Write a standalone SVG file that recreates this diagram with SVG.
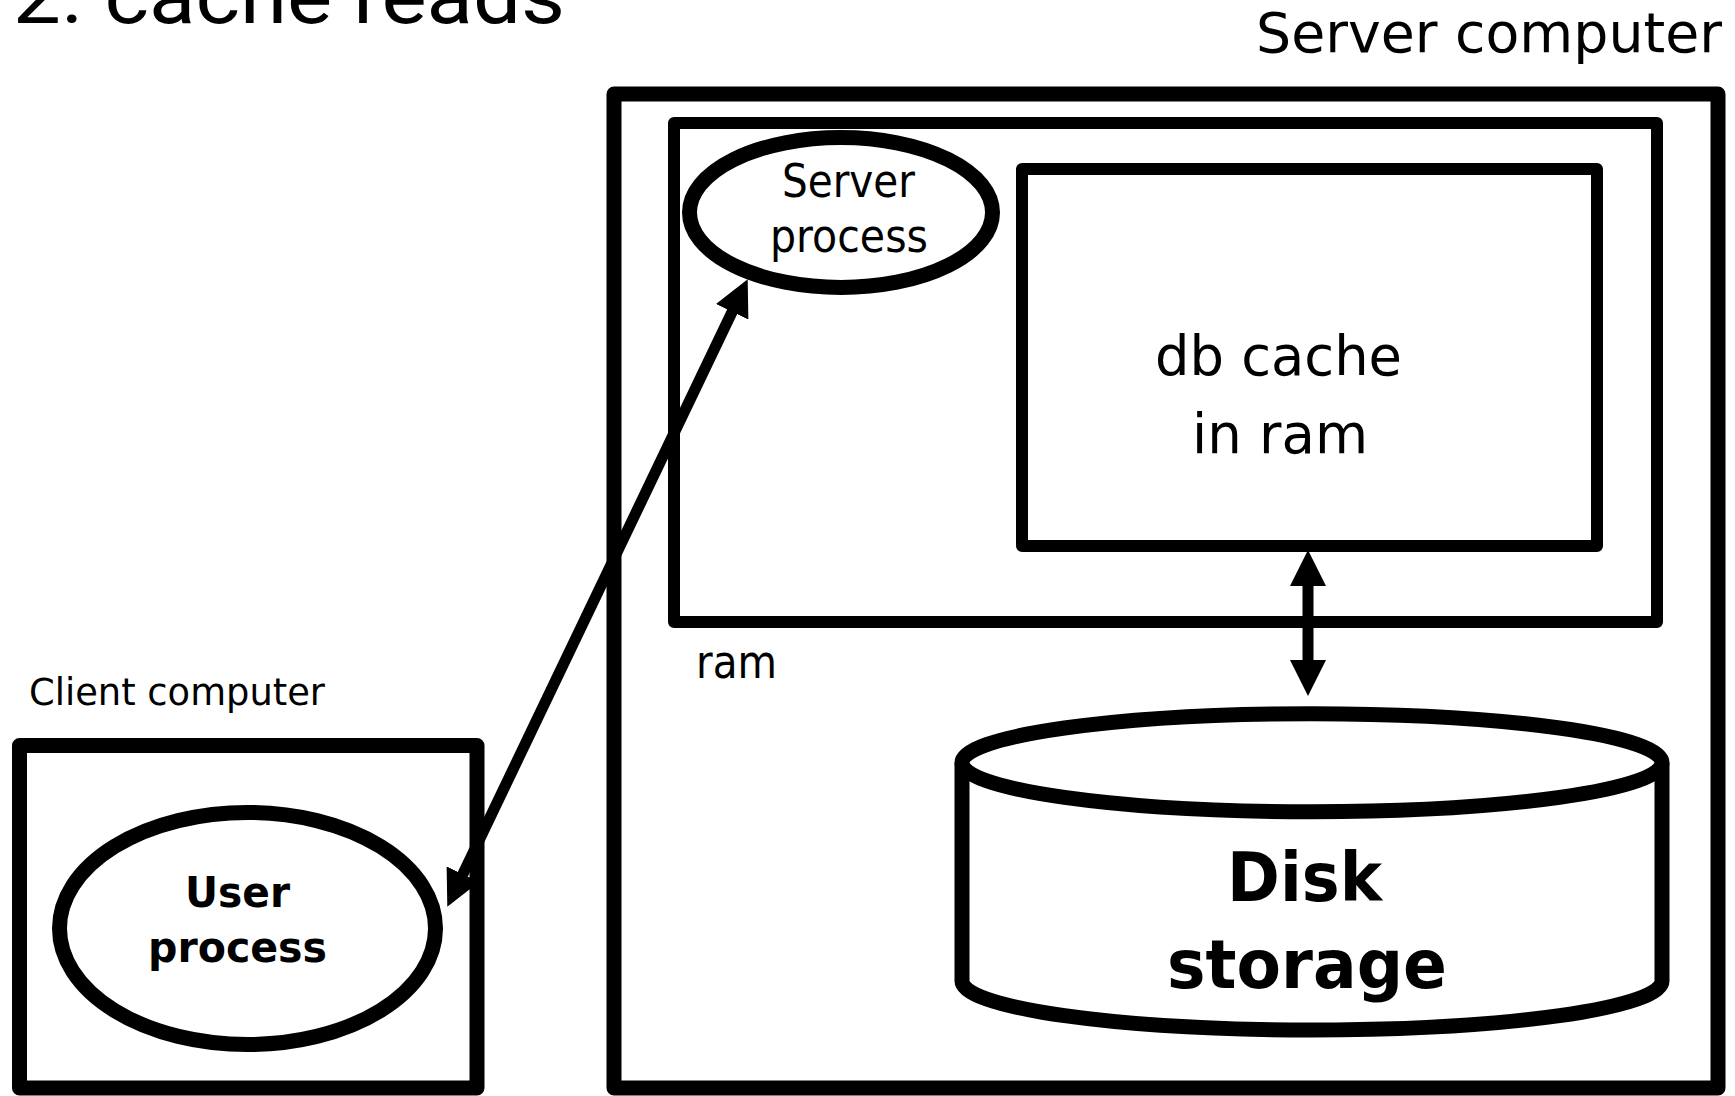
<svg xmlns="http://www.w3.org/2000/svg" width="1735" height="1096" viewBox="0 0 1735 1096">
  <style>
    .box { fill: none; stroke: #000; stroke-linejoin: round; }
    .thick { stroke-width: 15; }
    .mid { stroke-width: 12; }
    .t { font-family: "DejaVu Sans", Verdana, sans-serif; fill: #000; }
    .b { font-family: "DejaVu Sans", Verdana, sans-serif; font-weight: bold; fill: #000; }
    .conn { stroke: #000; stroke-width: 11; fill: none; }
  </style>
  <defs>
    <marker id="ah" markerUnits="userSpaceOnUse" viewBox="0 0 36 36" refX="2" refY="18" markerWidth="36" markerHeight="36" orient="auto-start-reverse">
      <path d="M0,0 L36,18 L0,36 Z" fill="#000"/>
    </marker>
  </defs>
  <rect width="1735" height="1096" fill="#fff"/>

  <g id="title">
    <text x="13" y="23" font-family="Roboto, sans-serif" font-size="78" textLength="552" lengthAdjust="spacingAndGlyphs">2. cache reads</text>
  </g>

  <g id="server-computer">
    <rect class="box thick" x="614" y="94" width="1104" height="994"/>
    <text class="t" x="1256" y="52" font-size="56" textLength="466" lengthAdjust="spacingAndGlyphs">Server computer</text>
  </g>

  <g id="ram">
    <rect class="box mid" x="674" y="123" width="983" height="499"/>
    <text class="t" x="696" y="678" font-size="46" textLength="81" lengthAdjust="spacingAndGlyphs">ram</text>
  </g>

  <g id="db-cache">
    <rect class="box mid" x="1022" y="169" width="575" height="377"/>
    <text class="t" x="1278.5" y="375" font-size="56" text-anchor="middle" textLength="247" lengthAdjust="spacingAndGlyphs">db cache</text>
    <text class="t" x="1280" y="453" font-size="56" text-anchor="middle" textLength="176" lengthAdjust="spacingAndGlyphs">in ram</text>
  </g>

  <g id="server-process">
    <ellipse class="box thick" cx="841" cy="212.5" rx="151.5" ry="75" fill="#fff"/>
    <text class="t" x="848.5" y="197" font-size="46" text-anchor="middle" textLength="133" lengthAdjust="spacingAndGlyphs">Server</text>
    <text class="t" x="849" y="252" font-size="46" text-anchor="middle" textLength="158" lengthAdjust="spacingAndGlyphs">process</text>
  </g>

  <g id="disk-storage">
    <path class="box thick" d="M962,762.7 L962,981 A350,49 0 0 0 1662,981 L1662,762.7"/>
    <ellipse class="box thick" cx="1312" cy="762.7" rx="350" ry="49"/>
    <text class="b" x="1304.5" y="901" font-size="68" text-anchor="middle" textLength="155" lengthAdjust="spacingAndGlyphs">Disk</text>
    <text class="b" x="1307" y="988" font-size="68" text-anchor="middle" textLength="280" lengthAdjust="spacingAndGlyphs">storage</text>
  </g>

  <g id="client-computer">
    <rect class="box thick" x="19.5" y="745.5" width="457.5" height="342.5"/>
    <text class="t" x="29" y="705" font-size="37" textLength="296" lengthAdjust="spacingAndGlyphs">Client computer</text>
  </g>

  <g id="user-process">
    <ellipse class="box thick" cx="247.5" cy="928.5" rx="188" ry="116"/>
    <text class="b" x="237.5" y="907" font-size="42" text-anchor="middle" textLength="105" lengthAdjust="spacingAndGlyphs">User</text>
    <text class="b" x="237.5" y="962" font-size="42" text-anchor="middle" textLength="179" lengthAdjust="spacingAndGlyphs">process</text>
  </g>

  <g id="connectors">
    <line class="conn" x1="462" y1="876" x2="733" y2="310" marker-start="url(#ah)" marker-end="url(#ah)"/>
    <line class="conn" x1="1308" y1="662" x2="1308" y2="584" marker-start="url(#ah)" marker-end="url(#ah)"/>
  </g>
</svg>
